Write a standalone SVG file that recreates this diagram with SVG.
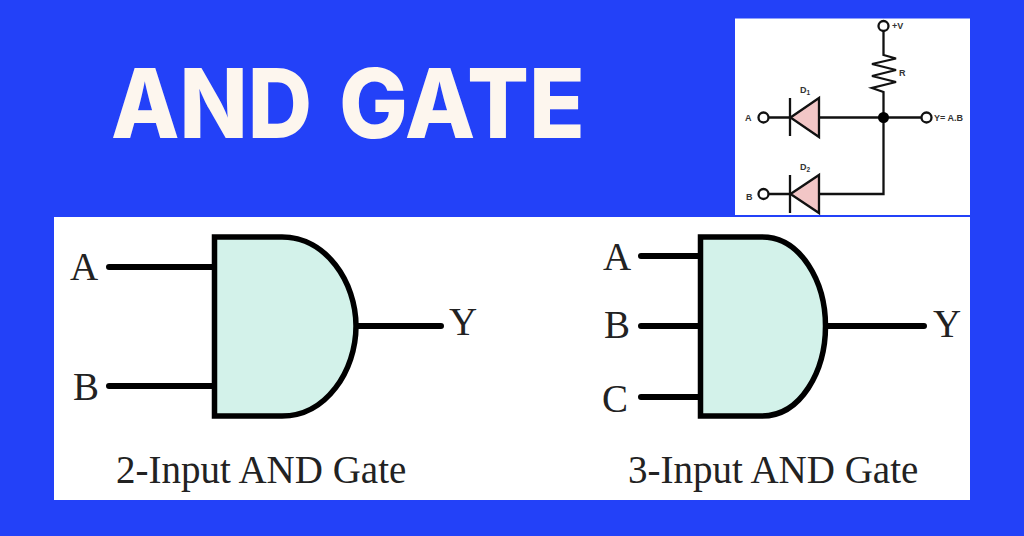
<svg xmlns="http://www.w3.org/2000/svg" width="1024" height="536" viewBox="0 0 1024 536">
<style>
.title{font-family:"Inter","Liberation Sans",sans-serif;font-weight:800;font-size:96px;fill:#fdf6ee}
.ser{font-family:"Liberation Serif",serif;fill:#222}
.lab{font-size:39px}
.cap{font-size:39px}
.gate{fill:#d3f2ea;stroke:#000;stroke-width:5.500}
.wire{fill:none;stroke:#000;stroke-width:6;stroke-linecap:round}
.c{fill:none;stroke:#111;stroke-width:2.300}
.term{fill:#fff;stroke:#111;stroke-width:2.300}
.diode{fill:#f2c6c6;stroke:#111;stroke-width:2.300}
.sm{font-family:"Liberation Sans",sans-serif;font-weight:700;font-size:9px;fill:#333}
</style>
<rect width="1024" height="536" fill="#2341f8"/>
<rect x="54" y="217" width="916" height="283" fill="#fff"/>
<rect x="735" y="18.500" width="235" height="196.500" fill="#fff"/>
<g id="title">
<text class="title" x="111" y="138" textLength="201" lengthAdjust="spacingAndGlyphs">AND</text>
<text class="title" x="339" y="138" textLength="246" lengthAdjust="spacingAndGlyphs">GATE</text>
</g>
<g id="connectors">
<path class="wire" d="M109 267H212M109 386H212M358 326H441"/>
<path class="wire" d="M641 256H698M641 326H698M641 397H698M828 326H924"/>
<path class="c" d="M883.500 31V55L896 58.500 872 64 896 70 872 76 896 82 872 88 883.500 92V117.500M883.500 117.500H921.500M768.500 117.500H790M819 117.500H883.500V194H819M768.500 194H790"/>
<path class="c" d="M790 98V136M790 175V213"/>
</g>
<g id="gate-2-input">
<path class="gate" d="M214.500 237H282C326 237 356 282 356 326C356 371 326 416 282 416H214.500Z"/>
<text class="ser lab" x="70" y="280">A</text>
<text class="ser lab" x="73" y="400">B</text>
<text class="ser lab" x="449" y="335">Y</text>
<text class="ser cap" x="116" y="483">2-Input AND Gate</text>
</g>
<g id="gate-3-input">
<path class="gate" d="M700.500 237H762C801 237 825.500 282 825.500 326C825.500 371 801 416 762 416H700.500Z"/>
<text class="ser lab" x="603" y="270">A</text>
<text class="ser lab" x="604" y="338">B</text>
<text class="ser lab" x="602" y="412">C</text>
<text class="ser lab" x="933" y="337">Y</text>
<text class="ser cap" x="628" y="483">3-Input AND Gate</text>
</g>
<g id="circuit">
<circle class="term" cx="883.500" cy="26" r="5"/>
<circle class="term" cx="926.500" cy="117.500" r="5"/>
<circle class="term" cx="763.500" cy="117.500" r="5"/>
<circle class="term" cx="763.500" cy="194" r="5"/>
<circle cx="883.500" cy="117.500" r="5.500" fill="#000"/>
<path class="diode" d="M790.500 117.500L819 98V137Z"/>
<path class="diode" d="M790.500 194L819 175V213Z"/>
<text class="sm" x="892" y="29">+V</text>
<text class="sm" x="899" y="76">R</text>
<text class="sm" x="934" y="121">Y= A.B</text>
<text class="sm" x="745" y="121">A</text>
<text class="sm" x="746" y="200">B</text>
<text class="sm" x="800" y="93">D<tspan font-size="6.500" dy="2">1</tspan></text>
<text class="sm" x="800" y="170">D<tspan font-size="6.500" dy="2">2</tspan></text>
</g>
</svg>
